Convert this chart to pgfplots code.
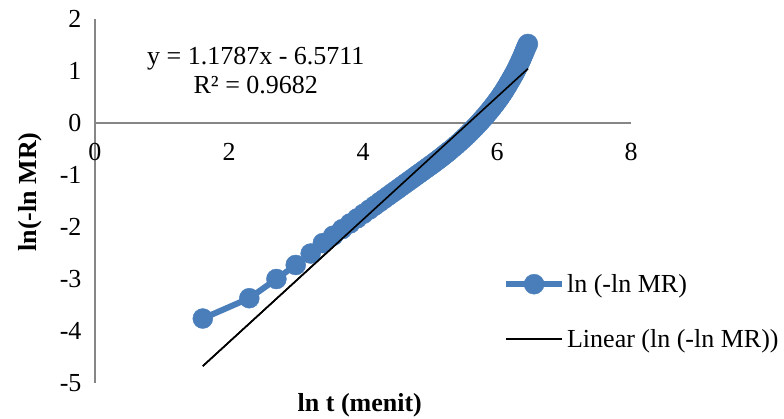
\documentclass[border=0pt]{standalone}
\usepackage{pgfplots}
\pgfplotsset{compat=1.18}
\usepackage{fontspec}
\setmainfont{Liberation Serif}
\definecolor{serblue}{RGB}{74,126,187}
\definecolor{axgray}{RGB}{134,134,134}
\begin{document}
\begin{tikzpicture}[font=\fontsize{26}{30}\selectfont]
\path[use as bounding box] (-95pt,-36pt) rectangle (689pt,383pt);
\begin{axis}[
  scale only axis, width=536pt, height=364pt,
  at={(0pt,0pt)}, anchor=south west,
  xmin=0, xmax=8, ymin=-5, ymax=2,
  axis x line=middle, axis y line=left,
  axis line style={axgray, line width=1.3pt, -},
  every inner x axis line/.append style={-},
  every outer y axis line/.append style={-},
  hide obscured x ticks=false, hide obscured y ticks=false,
  major tick length=0pt,
  xtick={0,2,4,6,8}, xticklabels={0,2,4,6,8},
  ytick={-5,-4,-3,-2,-1,0,1,2}, yticklabels={-5,-4,-3,-2,-1,0,1,2},
  tick label style={font=\fontsize{26}{30}\selectfont},
  xticklabel style={yshift=-17pt},
  yticklabel style={xshift=-10pt},
  xlabel={\textbf{ln t (menit)}},
  ylabel={\textbf{ln(-ln MR)}},
  xlabel style={at={(axis description cs:0.494,-0.060)}, anchor=center},
  ylabel style={at={(axis description cs:-0.121,0.525)}, anchor=center, rotate=0},
  clip=false,
  legend image code/.code={\draw[mark repeat=2,mark phase=2,#1] plot coordinates {(0pt,0pt) (28pt,0pt) (56pt,0pt)};},
  legend style={draw=none, fill=none, font=\fontsize{26}{30}\selectfont,
    at={(axis description cs:0.761,0.1965)}, anchor=west, row sep=31pt,
    inner sep=0pt},
  legend cell align=left,
]
\addplot[serblue, line width=6pt, line join=round, mark=*, mark size=10pt,
  mark options={solid, fill=serblue, draw=serblue, line width=0.4pt}] coordinates {
(1.609,-3.76) (2.303,-3.37) (2.708,-3.00) (2.996,-2.73) (3.219,-2.51) (3.401,-2.31)
(3.555,-2.167) (3.689,-2.042) (3.807,-1.932) (3.912,-1.835) (4.007,-1.746) (4.094,-1.666)
(4.174,-1.591) (4.248,-1.522) (4.317,-1.458) (4.382,-1.398) (4.443,-1.341) (4.500,-1.288)
(4.554,-1.238) (4.605,-1.190) (4.654,-1.145) (4.700,-1.102) (4.745,-1.060) (4.787,-1.021)
(4.828,-0.983) (4.868,-0.946) (4.905,-0.911) (4.942,-0.877) (4.977,-0.844) (5.011,-0.813)
(5.043,-0.783) (5.075,-0.752) (5.106,-0.722) (5.136,-0.693) (5.165,-0.664) (5.193,-0.636)
(5.220,-0.608) (5.247,-0.580) (5.273,-0.553) (5.298,-0.527) (5.347,-0.475) (5.394,-0.423)
(5.438,-0.373) (5.481,-0.322) (5.521,-0.274) (5.561,-0.225) (5.598,-0.177) (5.635,-0.129)
(5.670,-0.083) (5.704,-0.037) (5.737,0.009) (5.768,0.053) (5.799,0.098) (5.829,0.142)
(5.858,0.187) (5.886,0.230) (5.914,0.275) (5.940,0.317) (5.966,0.360) (5.991,0.402)
(6.016,0.446) (6.040,0.489) (6.064,0.534) (6.087,0.578) (6.109,0.622) (6.131,0.668)
(6.153,0.715) (6.174,0.761) (6.194,0.806) (6.215,0.852) (6.234,0.894) (6.254,0.941)
(6.273,0.987) (6.292,1.034) (6.310,1.081) (6.328,1.130) (6.346,1.180) (6.363,1.229)
(6.380,1.279) (6.397,1.331) (6.413,1.381) (6.430,1.435) (6.446,1.480) (6.461,1.520)
};
\addplot[black, line width=1.6pt] coordinates {(1.609,-4.675) (6.461,1.044)};
\legend{ln (-ln MR), Linear (ln (-ln MR))}
\node[align=center, font=\fontsize{26}{29}\selectfont] at (axis cs:2.4,1.0) {y = 1.1787x - 6.5711\\R² = 0.9682};
\end{axis}
\begin{axis}[
  scale only axis, width=536pt, height=364pt,
  at={(0pt,0pt)}, anchor=south west,
  xmin=0, xmax=8, ymin=-5, ymax=2,
  hide axis, clip=false,
]
\addplot[black, line width=1.6pt] coordinates {(1.609,-4.675) (6.461,1.044)};
\end{axis}
\end{tikzpicture}
\end{document}
